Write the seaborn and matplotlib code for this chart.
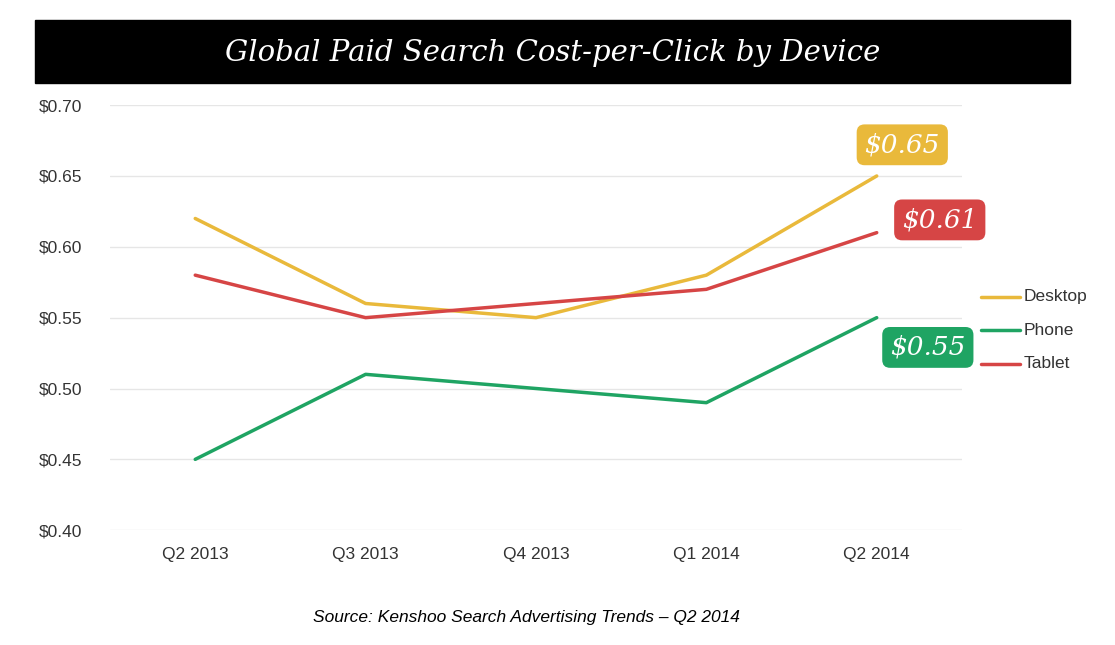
import matplotlib
matplotlib.use("Agg")
import matplotlib.pyplot as plt
import seaborn as sns
import pandas as pd

quarters = ["Q2 2013", "Q3 2013", "Q4 2013", "Q1 2014", "Q2 2014"]
desktop = [0.62, 0.56, 0.55, 0.58, 0.65]
phone = [0.45, 0.51, 0.50, 0.49, 0.55]
tablet = [0.58, 0.55, 0.56, 0.57, 0.61]
yticks = [0.40, 0.45, 0.50, 0.55, 0.60, 0.65, 0.70]

colors = {"Desktop": "#E9B93B", "Phone": "#1FA463", "Tablet": "#D64545"}

df = pd.DataFrame({"Quarter": quarters * 3,
                   "Device": ["Desktop"] * 5 + ["Phone"] * 5 + ["Tablet"] * 5,
                   "CPC": desktop + phone + tablet})
df["x"] = list(range(5)) * 3

sns.set_style("white")
plt.rcParams["font.family"] = ["Liberation Sans", "DejaVu Sans"]
fig = plt.figure(figsize=(11.15, 6.45), dpi=100)
ax = fig.add_axes([0.0987, 0.178, 0.764, 0.659])

sns.lineplot(data=df, x="x", y="CPC", hue="Device", palette=colors, linewidth=2.5, ax=ax, legend=False)

ax.set_xlim(-0.5, 4.5)
ax.set_ylim(0.40, 0.70)
ax.set_yticks(yticks)
ax.set_yticklabels([f"${v:.2f}" for v in yticks])
ax.set_xticks(range(5))
ax.set_xticklabels(quarters)
ax.tick_params(axis="both", labelsize=12.5, colors="#333333", length=0)
ax.tick_params(axis="y", pad=20)
ax.tick_params(axis="x", pad=12)
ax.grid(axis="y", color="#e6e6e6", linewidth=1)
for s in ax.spines.values():
    s.set_visible(False)
ax.set_xlabel("")
ax.set_ylabel("")

# legend
for i, name in enumerate(["Desktop", "Phone", "Tablet"]):
    yy = 0.54 - i * 0.052
    fig.lines.append(plt.Line2D([0.880, 0.915], [yy, yy], color=colors[name], lw=2.5, transform=fig.transFigure))
    fig.text(0.918, yy, name, fontsize=12.5, va="center", color="#333333")

# callouts
callouts = [(desktop[-1], "Desktop", (4.15, 0.672)), (tablet[-1], "Tablet", (4.37, 0.619)),
            (phone[-1], "Phone", (4.3, 0.529))]
for val, name, pos in callouts:
    ax.annotate(f"${val:.2f}", xy=(4, val), xytext=pos, ha="center", va="center",
                fontsize=19, color="white", family="DejaVu Serif", style="italic",
                bbox=dict(boxstyle="round,pad=0.3", fc=colors[name], ec="none"),
                annotation_clip=False)

# title bar
fig.patches.append(plt.Rectangle((0.031, 0.871), 0.929, 0.098, color="black", transform=fig.transFigure))
fig.text(0.4955, 0.918, "Global Paid Search Cost-per-Click by Device", ha="center", va="center",
         fontsize=21, color="white", family="DejaVu Serif", style="italic")

fig.text(0.472, 0.035, "Source: Kenshoo Search Advertising Trends \u2013 Q2 2014", ha="center",
         fontsize=12.5, style="italic", color="black")

fig.savefig("out.png", dpi=100)
